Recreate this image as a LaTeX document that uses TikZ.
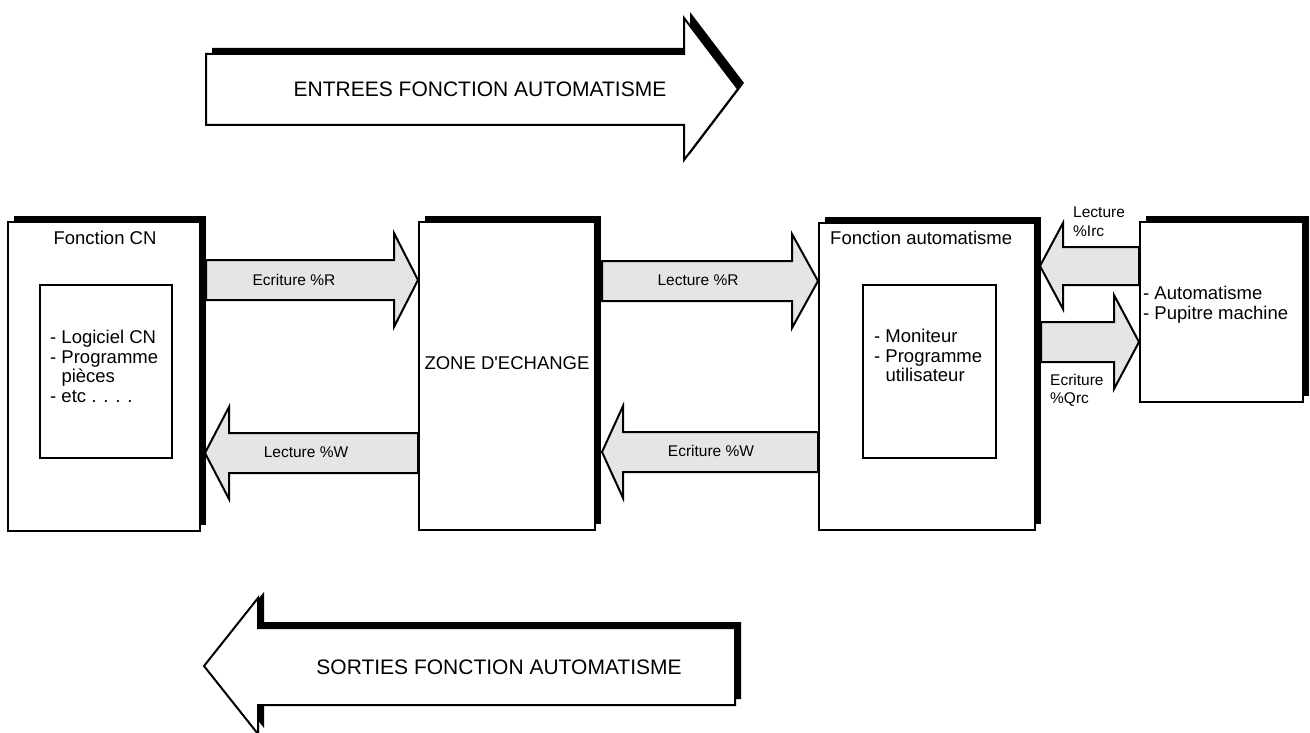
\documentclass[tikz,border=0pt]{standalone}
\usepackage{fontspec}
\setmainfont{Liberation Sans}
\newfontfamily\nomapfont{Liberation Sans}
\usetikzlibrary{shadows,calc}
\definecolor{agray}{HTML}{E5E5E5}
\tikzset{
  box/.style={draw, line width=2pt, fill=white, rectangle, inner sep=0pt},
  shbox/.style={box, drop shadow={shadow xshift=6pt, shadow yshift=6pt, opacity=1, fill=black}},
  barrow/.style={draw, line width=2pt, fill=agray, line join=miter},
  bigarrow/.style={draw, line width=2pt, fill=white, line join=miter},
  bigtxt/.style={font=\fontsize{18.5}{19.5}\selectfont, inner sep=0pt, align=left},
  smtxt/.style={font=\fontsize{15.5}{18.5}\selectfont, inner sep=0pt, align=left},
  hugetxt/.style={font=\fontsize{21}{24}\selectfont, inner sep=0pt},
}
% #1 style, #2 tail point, #3 tip point, #4 body half, #5 head half, #6 signed head length
\newcommand\hbarrow[6]{%
  \draw[#1] let \p1=#2, \p2=#3 in
   (\x1,\y2+#4) -- (\x2-#6,\y2+#4) -- (\x2-#6,\y2+#5) -- (\x2,\y2)
   -- (\x2-#6,\y2-#5) -- (\x2-#6,\y2-#4) -- (\x1,\y2-#4) -- cycle;}
\begin{document}
\begin{tikzpicture}[x=1pt,y=-1pt]
\useasboundingbox (0,0) rectangle (1310,733);

% big arrow top
\def\toparrow{(206,54) -- (684,54) -- (684,18) -- (738,89) -- (684,160) -- (684,125) -- (206,125) -- cycle}
\begin{scope}[shift={(6,-6)}]
  \fill[black] \toparrow;
\end{scope}
\draw[bigarrow] \toparrow;
\node[hugetxt] (entrees) at (480,89) {ENTREES FONCTION AUTOMATISME};

% big arrow bottom
\def\botarrow{(735,628) -- (258,628) -- (258,598) -- (204,666) -- (258,734) -- (258,705) -- (735,705) -- cycle}
\begin{scope}[shift={(6,-6)}]
  \fill[black] \botarrow;
\end{scope}
\draw[bigarrow] \botarrow;
\node[hugetxt] (sorties) at (499,667) {SORTIES FONCTION AUTOMATISME};

% boxes
\node[shbox, minimum width=192pt, minimum height=309pt] (cn) at (104,376.5) {};
\node[box, minimum width=132pt, minimum height=173pt] (cnin) at (106,371.5) {};
\node[shbox, minimum width=176pt, minimum height=308pt] (zone) at (507,376) {};
\node[shbox, minimum width=216pt, minimum height=307pt] (fa) at (927,376.5) {};
\node[box, minimum width=133pt, minimum height=173pt] (fain) at (929.5,371.5) {};
\node[shbox, minimum width=163pt, minimum height=180pt] (rb) at (1221.5,312) {};

% box texts
\node[bigtxt] (cntitle) at (105,238) {Fonction CN};
\node[bigtxt, anchor=north west] (cnlist) at (50,330) {- Logiciel CN\\- Programme\\\hphantom{- }pièces\\- etc . . . .};
\node[bigtxt] (zonetxt) at (507,363) {ZONE D{\nomapfont'}ECHANGE};
\node[bigtxt, anchor=west] (fatitle) at (830,238) {Fonction automatisme};
\node[bigtxt, anchor=north west] (falist) at (874,329) {- Moniteur\\- Programme\\\hphantom{- }utilisateur};
\node[bigtxt, anchor=north west] (rblist) at (1143,286) {- Automatisme\\- Pupitre machine};

% block arrows
\hbarrow{barrow}{($(cn.east)+(5,0)$)}{(zone.west |- 0,280)}{20}{47}{24}
\hbarrow{barrow}{(zone.west)}{($(cn.east |- 0,453)+(4,0)$)}{20}{46}{-24}
\hbarrow{barrow}{($(zone.east)+(6,0)$)}{(fa.west |- 0,281)}{20}{47}{26}
\hbarrow{barrow}{(fa.west)}{($(zone.east |- 0,452)+(6,0)$)}{20}{46}{-21}
\hbarrow{barrow}{(rb.west)}{($(fa.east |- 0,266)+(4,0)$)}{19}{43}{-23}
\hbarrow{barrow}{($(fa.east)+(5,0)$)}{(rb.west |- 0,342)}{20}{47}{25}

% arrow labels
\node[smtxt] (l1) at (294,280) {Ecriture \%R};
\node[smtxt] (l2) at (306,452) {Lecture \%W};
\node[smtxt] (l3) at (698,280) {Lecture \%R};
\node[smtxt] (l4) at (711,451) {Ecriture \%W};
\node[smtxt, anchor=north west] (l5) at (1073,207) {Lecture\\\%Irc};
\node[smtxt, anchor=north west] (l6) at (1050,374) {Ecriture\\\%Qrc};
\end{tikzpicture}
\end{document}
